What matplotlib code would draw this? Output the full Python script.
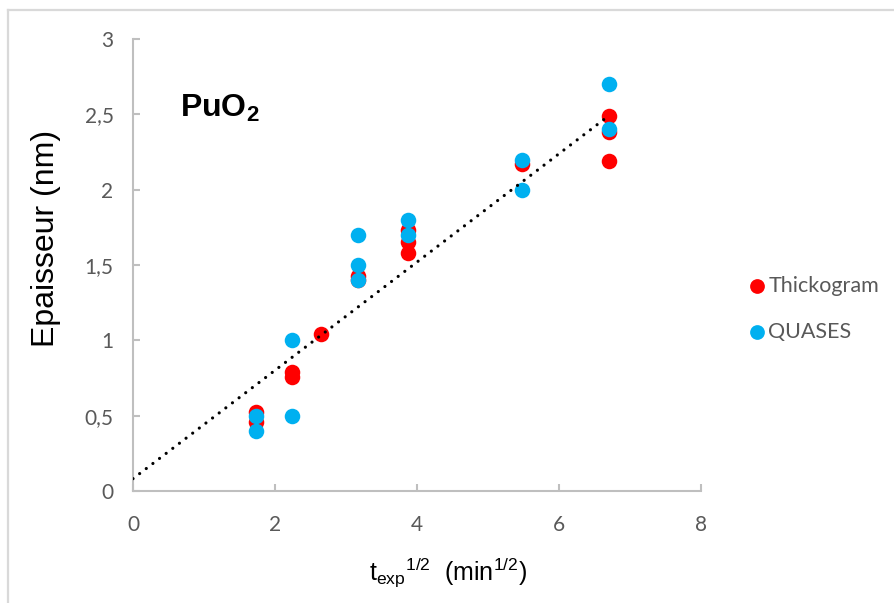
import matplotlib.pyplot as plt
import numpy as np
from matplotlib.lines import Line2D

plt.rcParams["mathtext.fontset"] = "custom"
plt.rcParams["mathtext.rm"] = "Liberation Sans"
plt.rcParams["mathtext.it"] = "Liberation Sans:italic"
plt.rcParams["mathtext.bf"] = "Liberation Sans:bold"

# Data (x = sqrt of exposure time in min)
thick_x = [1.732, 1.732, 2.236, 2.236, 2.646, 3.162, 3.162, 3.873, 3.873, 3.873,
           5.477, 6.708, 6.708, 6.708]
thick_y = [0.526, 0.46, 0.79, 0.755, 1.045, 1.43, 1.40, 1.73, 1.65, 1.58,
           2.17, 2.49, 2.385, 2.19]

quases_x = [1.732, 1.732, 2.236, 2.236, 3.162, 3.162, 3.162, 3.873, 3.873,
            5.477, 5.477, 6.708, 6.708]
quases_y = [0.50, 0.40, 1.00, 0.50, 1.70, 1.50, 1.40, 1.80, 1.70,
            2.20, 2.00, 2.70, 2.40]

x_ticks = [0, 2, 4, 6, 8]
x_tick_labels = ["0", "2", "4", "6", "8"]
y_ticks = [0, 0.5, 1, 1.5, 2, 2.5, 3]
y_tick_labels = ["0", "0,5", "1", "1,5", "2", "2,5", "3"]

red = "#FF0000"
blue = "#00B0F0"
grey_axis = "#BFBFBF"
grey_text = "#595959"
tick_font = "Lato"

W, H = 894, 603
fig = plt.figure(figsize=(W / 100, H / 100), dpi=100)
ax = fig.add_axes([133 / W, 1 - 491 / H, (701 - 133) / W, (491 - 39) / H])

# dotted linear trendline on the Thickogram series, extended back to x = 0
slope, icpt = np.polyfit(thick_x, thick_y, 1)
tx = np.array([0, max(thick_x)])
ax.plot(tx, slope * tx + icpt, color="black", linestyle=(0, (0.01, 2.6)),
        linewidth=2.3, zorder=4, dash_capstyle="round")

ax.scatter(thick_x, thick_y, s=125, color=red, linewidths=0, zorder=2,
           label="Thickogram")
ax.scatter(quases_x, quases_y, s=125, color=blue, linewidths=0, zorder=3,
           label="QUASES")

ax.set_xlim(0, 8)
ax.set_ylim(0, 3)
ax.set_xticks(x_ticks)
ax.set_xticklabels(x_tick_labels)
ax.set_yticks(y_ticks)
ax.set_yticklabels(y_tick_labels)

for side in ["top", "right"]:
    ax.spines[side].set_visible(False)
for side in ["left", "bottom"]:
    ax.spines[side].set_color(grey_axis)
    ax.spines[side].set_linewidth(1.5)
ax.tick_params(direction="in", length=5, width=1.5, color=grey_axis,
               labelcolor=grey_text, labelsize=15)
ax.tick_params(axis="x", pad=17)
ax.tick_params(axis="y", pad=14)
for lab in ax.get_xticklabels() + ax.get_yticklabels():
    lab.set_fontfamily(tick_font)

ax.text(0.66, 2.48, "PuO$_\\mathbf{2}$", fontsize=23, fontweight="bold",
        family="Liberation Sans", va="baseline", ha="left")

fig.text(46 / W, 1 - 238 / H, "Epaisseur (nm)", rotation=90, fontsize=23,
         family="Liberation Sans", ha="center", va="center")
fig.text(448 / W, 1 - 572 / H, "t$_{\\mathregular{exp}}$$^{\\mathregular{1/2}}$  (min$^{\\mathregular{1/2}}$)",
         fontsize=18, family="Liberation Sans", ha="center", va="center")

leg = ax.legend(loc="center left", bbox_to_anchor=(749 / W, 1 - 309 / H),
                bbox_transform=fig.transFigure, frameon=False,
                prop={"family": tick_font, "size": 15.5}, labelspacing=1.2,
                handlelength=0.75, handletextpad=0.15, borderaxespad=0,
                borderpad=0, markerscale=0.95)
for t in leg.get_texts():
    t.set_color(grey_text)

# chart border (cropped at right and bottom)
fig.add_artist(Line2D([8 / W, 1.0], [1 - 9.5 / H, 1 - 9.5 / H], color="#D9D9D9",
                      linewidth=1.6, transform=fig.transFigure))
fig.add_artist(Line2D([8 / W, 8 / W], [0, 1 - 9.5 / H], color="#D9D9D9",
                      linewidth=1.6, transform=fig.transFigure))

fig.savefig("out.png", dpi=100)
